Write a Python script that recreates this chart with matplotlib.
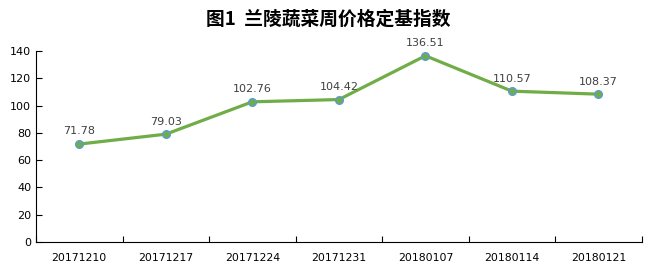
import matplotlib.pyplot as plt
import numpy as np

plt.rcParams['font.family'] = ['Noto Sans CJK SC', 'DejaVu Sans']

dates = ['20171210', '20171217', '20171224', '20171231', '20180107', '20180114', '20180121']
values = [71.78, 79.03, 102.76, 104.42, 136.51, 110.57, 108.37]

fig = plt.figure(figsize=(6.57, 2.75), dpi=100)
ax = fig.add_axes([0.0548, 0.12, 0.922, 0.6945])

x = np.arange(len(dates))
ax.plot(x, values, color='#70AD47', linewidth=2.3, marker='o', markersize=5.5,
        markerfacecolor='#70AD47', markeredgecolor='#5B9BD5', markeredgewidth=1)

for xi, v in zip(x, values):
    ax.annotate(f'{v:.2f}', (xi, v), xytext=(0, 5.5), textcoords='offset points',
                ha='center', va='bottom', fontsize=8, color='#404040',
                family='DejaVu Sans')

ax.set_xlim(-0.5, len(dates) - 0.5)
ax.set_ylim(0, 140)
ax.set_yticks(range(0, 141, 20))
ax.set_xticks(x)
ax.set_xticklabels(dates)
ax.set_xticks(np.arange(-0.5, len(dates), 1), minor=True)
ax.tick_params(axis='x', which='major', length=0, labelsize=7.8, pad=8)
ax.tick_params(axis='x', which='minor', direction='in', length=4, width=0.8)
ax.tick_params(axis='y', direction='in', length=4, width=0.8, labelsize=8)
for lab in ax.get_xticklabels() + ax.get_yticklabels():
    lab.set_family('DejaVu Sans')

ax.spines['top'].set_visible(False)
ax.spines['right'].set_visible(False)
ax.spines['left'].set_linewidth(0.8)
ax.spines['bottom'].set_linewidth(0.8)

fig.text(0.5, 0.93, '图1  兰陵蔬菜周价格定基指数', ha='center', va='center',
         fontsize=13.5, fontweight='bold')

fig.savefig('out.png', dpi=100)
